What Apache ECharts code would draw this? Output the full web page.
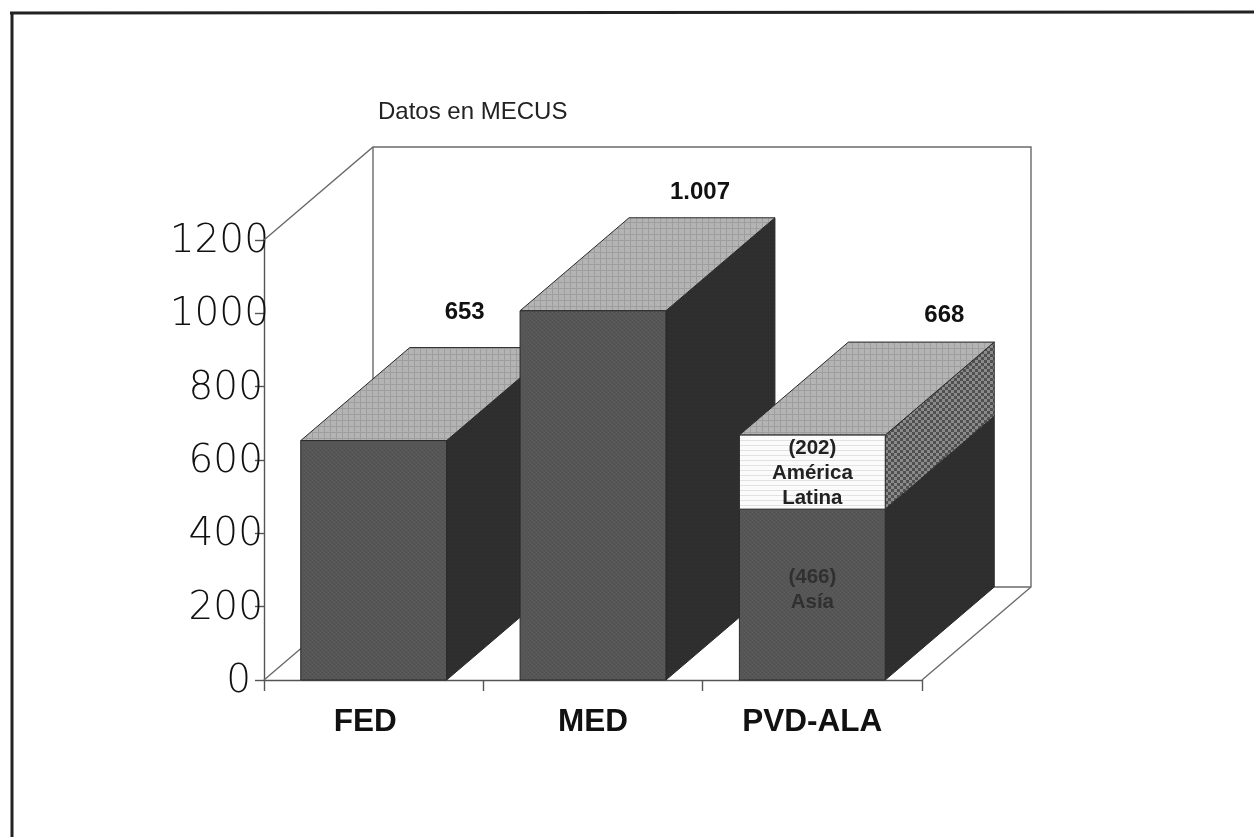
<!DOCTYPE html>
<html>
<head>
<meta charset="utf-8">
<style>html,body{margin:0;padding:0;background:#fff}#c{width:1254px;height:837px}</style>
<script src="https://cdn.jsdelivr.net/npm/echarts@6/dist/echarts.min.js"></script>
</head>
<body>
<div id="c"></div>
<script>
const categories = ['FED', 'MED', 'PVD-ALA'];
const lowerValues = [653, 1007, 466];
const upperValues = [0, 0, 202];
const totalLabels = ['653', '1.007', '668'];
const upperNotes = ['', '', '(202)\nAmérica\nLatina'];
const lowerNotes = ['', '', '(466)\nAsía'];
const yTicks = [0, 200, 400, 600, 800, 1000, 1200];
const axisTitle = 'Datos en MECUS';

// Oblique projection and label placement (drawing style, not data)
const DEPTH_X = 109, DEPTH_Y = -93, BAR_SHARE = 0.665;
const TOTAL_NUDGE = [[91, -128], [107, -118], [132, -120]];
const SANS = '"Liberation Sans", Arial, sans-serif';
const TICK_FONT = '"DejaVu Sans", sans-serif';

function tile(size, paint) {
  const cv = document.createElement('canvas');
  cv.width = cv.height = size;
  const g = cv.getContext('2d');
  paint(g, size);
  return { image: cv, repeat: 'repeat' };
}
const FILL_TOP = tile(6, (g, s) => {
  g.fillStyle = '#b4b4b4'; g.fillRect(0, 0, s, s);
  g.fillStyle = '#9e9e9e'; g.fillRect(0, 0, s, 1); g.fillRect(0, 0, 1, s);
});
const FILL_FRONT = tile(4, (g, s) => {
  g.fillStyle = '#565656'; g.fillRect(0, 0, s, s);
  g.fillStyle = '#5c5c5c'; g.fillRect(0, 0, 1, 1); g.fillRect(2, 2, 1, 1);
  g.fillStyle = '#505050'; g.fillRect(2, 0, 1, 1); g.fillRect(0, 2, 1, 1);
});
const FILL_SIDE = tile(4, (g, s) => {
  g.fillStyle = '#2e2e2e'; g.fillRect(0, 0, s, s);
  g.fillStyle = '#353535'; g.fillRect(1, 1, 1, 1);
});
const FILL_LIGHT_FRONT = tile(5, (g, s) => {
  g.fillStyle = '#fbfbfb'; g.fillRect(0, 0, s, s);
  g.fillStyle = '#e2e2e2'; g.fillRect(0, 0, s, 1);
});
const FILL_LIGHT_SIDE = tile(6, (g, s) => {
  g.fillStyle = '#8a8a8a'; g.fillRect(0, 0, s, s);
  g.fillStyle = '#505050'; g.fillRect(0, 0, 3, 3); g.fillRect(3, 3, 3, 3);
});

function poly(points, fill, stroke) {
  return { type: 'polygon', shape: { points }, style: { fill, stroke: stroke || '#2a2a2a', lineWidth: 1 } };
}
function renderBlock(frontFill, sideFill, notes, noteColor, noteShift, withTotal) {
  return function (params, api) {
    const i = api.value(0), base = api.value(1), top = api.value(2);
    if (top <= base) return null;
    const c0 = api.coord([i, base]), c1 = api.coord([i, top]);
    const w = api.size([1, 0])[0] * BAR_SHARE;
    const l = c0[0] - w / 2, r = c0[0] + w / 2, yb = c0[1], yt = c1[1];
    const children = [
      poly([[r, yb], [r + DEPTH_X, yb + DEPTH_Y], [r + DEPTH_X, yt + DEPTH_Y], [r, yt]], sideFill),
      poly([[l, yt], [r, yt], [r + DEPTH_X, yt + DEPTH_Y], [l + DEPTH_X, yt + DEPTH_Y]], FILL_TOP),
      poly([[l, yb], [r, yb], [r, yt], [l, yt]], frontFill)
    ];
    if (notes[i]) {
      children.push({ type: 'text', style: {
        x: (l + r) / 2, y: (yb + yt) / 2 + noteShift, text: notes[i], align: 'center', verticalAlign: 'middle',
        fill: noteColor, font: 'bold 20.5px ' + SANS, lineHeight: 25 } });
    }
    if (withTotal(i)) {
      const n = TOTAL_NUDGE[i];
      children.push({ type: 'text', style: {
        x: c0[0] + n[0], y: yt + n[1], text: totalLabels[i], align: 'center', verticalAlign: 'middle',
        fill: '#111', font: 'bold 24px ' + SANS } });
    }
    return { type: 'group', children };
  };
}
function renderWalls(params, api) {
  const size = api.size([1, 0])[0];
  const first = api.coord([0, 0]), last = api.coord([categories.length - 1, 0]);
  const maxV = yTicks[yTicks.length - 1];
  const xl = first[0] - size / 2, xr = last[0] + size / 2, y0 = first[1], y1 = api.coord([0, maxV])[1];
  const b = (x, y) => [x + DEPTH_X, y + DEPTH_Y];
  const line = pts => ({ type: 'polyline', shape: { points: pts }, style: { fill: null, stroke: '#6a6a6a', lineWidth: 1.4 } });
  return { type: 'group', children: [
    line([[xl, y1], b(xl, y1), b(xr, y1), b(xr, y0), [xr, y0]]),
    line([[xl, y0], b(xl, y0), b(xl, y1)]),
    line([b(xl, y0), b(xr, y0)])
  ] };
}

const chart = echarts.init(document.getElementById('c'), null, { renderer: 'canvas' });
const lowerData = categories.map((c, i) => [i, 0, lowerValues[i]]);
const upperData = categories.map((c, i) => [i, lowerValues[i], lowerValues[i] + upperValues[i]]);
const tickStyle = { fontFamily: TICK_FONT, fontWeight: 200, fontSize: 39, color: '#111' };
chart.setOption({
  animation: false,
  backgroundColor: '#fff',
  grid: { left: 264, right: 332, top: 240, bottom: 157 },
  title: { text: axisTitle, left: 373, top: 95, textStyle: { fontFamily: SANS, fontSize: 24, fontWeight: 'normal', color: '#222' } },
  xAxis: {
    type: 'category', data: categories,
    axisLine: { lineStyle: { color: '#555', width: 1.4 } },
    axisTick: { show: true, length: 11, lineStyle: { color: '#555', width: 1.4 } },
    axisLabel: {
      margin: 26,
      formatter: v => v === 'FED' ? '{shift|' + v + '}' : '{plain|' + v + '}',
      rich: {
        plain: { fontFamily: SANS, fontSize: 31.5, fontWeight: 'bold', color: '#111' },
        shift: { fontFamily: SANS, fontSize: 31.5, fontWeight: 'bold', color: '#111', padding: [0, 17, 0, 0] }
      }
    }
  },
  yAxis: {
    type: 'value', min: 0, max: 1200, interval: 200,
    splitLine: { show: false },
    axisLine: { show: true, lineStyle: { color: '#555', width: 1.4 } },
    axisTick: { show: true, length: 9, lineStyle: { color: '#555', width: 1.4 } },
    axisLabel: {
      margin: -5,
      formatter: v => v >= 1000 ? '{a|' + v + '}' : v > 0 ? '{b|' + v + '}' : '{c|' + v + '}',
      rich: {
        a: Object.assign({ padding: [4, 0, 0, 0] }, tickStyle),
        b: Object.assign({ padding: [4, 6, 0, 0] }, tickStyle),
        c: Object.assign({ padding: [4, 18, 0, 0] }, tickStyle)
      }
    }
  },
  graphic: [
    { type: 'line', shape: { x1: 12, y1: 12, x2: 12, y2: 837 }, style: { stroke: '#222', lineWidth: 3 } },
    { type: 'line', shape: { x1: 10, y1: 13, x2: 1254, y2: 12 }, style: { stroke: '#222', lineWidth: 3 } }
  ],
  series: [
    { type: 'custom', name: 'walls', silent: true, z: 1, data: [[0]], renderItem: renderWalls },
    { type: 'custom', name: 'Asia', silent: true, z: 2, data: lowerData, encode: { x: 0, y: 2 },
      renderItem: renderBlock(FILL_FRONT, FILL_SIDE, lowerNotes, '#303030', -5, i => upperValues[i] === 0) },
    { type: 'custom', name: 'América Latina', silent: true, z: 3, data: upperData, encode: { x: 0, y: 2 },
      renderItem: renderBlock(FILL_LIGHT_FRONT, FILL_LIGHT_SIDE, upperNotes, '#222', 1, i => upperValues[i] > 0) }
  ]
});
</script>
</body>
</html>
